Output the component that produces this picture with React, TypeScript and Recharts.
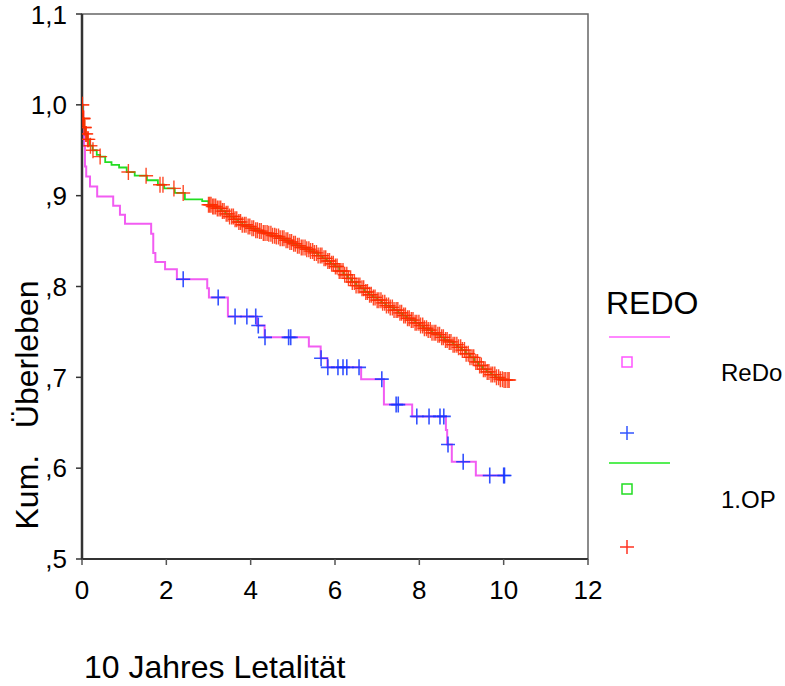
import React from 'react';
import { ComposedChart, Line, Scatter, XAxis, YAxis, ReferenceArea } from 'recharts';

// ---- Data ----
const xTicks = [0, 2, 4, 6, 8, 10, 12];
const yTicks = [0.5, 0.6, 0.7, 0.8, 0.9, 1.0, 1.1];

// ReDo: Kaplan-Meier steps [time, survival]
const redoSteps: [number, number][] = [
  [0, 1.0], [0.03, 0.975], [0.05, 0.955], [0.07, 0.932], [0.1, 0.921],
  [0.19, 0.91], [0.36, 0.899], [0.74, 0.889], [0.9, 0.879], [1.02, 0.869],
  [1.64, 0.858], [1.69, 0.837], [1.74, 0.827], [1.97, 0.819], [2.25, 0.808],
  [2.97, 0.798], [3.01, 0.788], [3.46, 0.767], [4.15, 0.757], [4.33, 0.744],
  [5.38, 0.734], [5.66, 0.721], [5.82, 0.711], [6.62, 0.698], [7.16, 0.67],
  [7.83, 0.657], [8.63, 0.642], [8.66, 0.626], [8.77, 0.607], [9.34, 0.592],
  [10.02, 0.592],
];
// ReDo censored [time, survival]
const redoCensored: [number, number][] = [
  [2.4, 0.808], [3.23, 0.788], [3.63, 0.767], [3.91, 0.767], [4.12, 0.767],
  [4.18, 0.757], [4.34, 0.744], [4.9, 0.744], [4.95, 0.744], [5.67, 0.721],
  [5.83, 0.711], [6.07, 0.711], [6.19, 0.711], [6.28, 0.711], [6.57, 0.711],
  [7.11, 0.698], [7.45, 0.67], [7.5, 0.67], [7.94, 0.657], [8.23, 0.657],
  [8.49, 0.657], [8.58, 0.657], [8.68, 0.626], [9.04, 0.607], [9.67, 0.592],
  [10.0, 0.592], [10.02, 0.592],
];

// 1.OP: Kaplan-Meier steps [time, survival]
const opSteps: [number, number][] = [
  [0, 1.0], [0.02, 0.985], [0.05, 0.975], [0.08, 0.968], [0.12, 0.962],
  [0.18, 0.955], [0.25, 0.95], [0.35, 0.945], [0.43, 0.943], [0.55, 0.937],
  [0.7, 0.934], [0.88, 0.931], [1.06, 0.926], [1.25, 0.922], [1.54, 0.917],
  [1.8, 0.912], [1.95, 0.908], [2.2, 0.903], [2.44, 0.896], [2.85, 0.894],
  [3.0, 0.89], [3.1, 0.888], [3.2, 0.886], [3.3, 0.883], [3.4, 0.88],
  [3.5, 0.877], [3.6, 0.874], [3.7, 0.871], [3.8, 0.868], [3.9, 0.866],
  [4.0, 0.864], [4.1, 0.862], [4.2, 0.861], [4.3, 0.859], [4.4, 0.858],
  [4.5, 0.856], [4.6, 0.855], [4.7, 0.853], [4.8, 0.851], [4.9, 0.849],
  [5.0, 0.847], [5.1, 0.845], [5.2, 0.843], [5.3, 0.841], [5.4, 0.839],
  [5.5, 0.837], [5.6, 0.834], [5.7, 0.831], [5.8, 0.828], [5.9, 0.825],
  [6.0, 0.822], [6.1, 0.817], [6.2, 0.813], [6.3, 0.809], [6.4, 0.805],
  [6.5, 0.801], [6.6, 0.798], [6.7, 0.794], [6.8, 0.791], [6.9, 0.788],
  [7.0, 0.785], [7.1, 0.782], [7.2, 0.779], [7.3, 0.777], [7.4, 0.774],
  [7.5, 0.771], [7.6, 0.768], [7.7, 0.765], [7.8, 0.763], [7.9, 0.76],
  [8.0, 0.757], [8.1, 0.754], [8.2, 0.752], [8.3, 0.749], [8.4, 0.747],
  [8.5, 0.744], [8.6, 0.741], [8.7, 0.739], [8.8, 0.736], [8.9, 0.733],
  [9.0, 0.73], [9.1, 0.726], [9.2, 0.722], [9.3, 0.717], [9.4, 0.713],
  [9.5, 0.709], [9.6, 0.706], [9.7, 0.703], [9.8, 0.7], [9.9, 0.698],
  [10.0, 0.697], [10.15, 0.697],
];
// 1.OP censored times
const opCensoredTimes: number[] = [
  0.0, 0.01, 0.02, 0.03, 0.04, 0.05, 0.07, 0.09, 0.1, 0.13, 0.15, 0.2, 0.26, 0.43,
  1.1, 1.52, 1.85, 1.92, 2.18, 2.4,
  3.0, 3.03, 3.06, 3.1, 3.13, 3.17, 3.21, 3.25, 3.29, 3.33, 3.37, 3.42, 3.46, 3.5, 3.55,
  3.59, 3.63, 3.67, 3.72, 3.76, 3.8, 3.85, 3.89, 3.94, 3.98, 4.03, 4.07, 4.12, 4.16, 4.21,
  4.25, 4.3, 4.34, 4.39, 4.43, 4.48, 4.52, 4.57, 4.61, 4.66, 4.7, 4.75, 4.79, 4.84, 4.88,
  4.93, 4.97, 5.02, 5.06, 5.11, 5.15, 5.2, 5.24, 5.29, 5.33, 5.38, 5.42, 5.47, 5.51, 5.56,
  5.6, 5.65, 5.69, 5.74, 5.78, 5.83, 5.87, 5.92, 5.96, 6.01, 6.05, 6.1, 6.14, 6.19, 6.23,
  6.28, 6.32, 6.37, 6.41, 6.46, 6.5, 6.55, 6.59, 6.64, 6.68, 6.73, 6.77, 6.82, 6.86, 6.91,
  6.95, 7.0, 7.04, 7.09, 7.13, 7.18, 7.22, 7.27, 7.31, 7.36, 7.4, 7.45, 7.49, 7.54, 7.58,
  7.63, 7.67, 7.72, 7.76, 7.81, 7.85, 7.9, 7.94, 7.99, 8.03, 8.08, 8.12, 8.17, 8.21, 8.26,
  8.3, 8.35, 8.39, 8.44, 8.48, 8.53, 8.57, 8.62, 8.66, 8.71, 8.75, 8.8, 8.84, 8.89, 8.93,
  8.98, 9.02, 9.07, 9.11, 9.16, 9.2, 9.25, 9.29, 9.34, 9.38, 9.43, 9.47, 9.52, 9.56, 9.61,
  9.65, 9.7, 9.74, 9.79, 9.83, 9.88, 9.92, 9.97, 10.01, 10.05, 10.1, 10.13,
];

// ---- Build series ----
const toPts = (arr: [number, number][]) => arr.map(([t, s]) => ({ t, s }));
const survAt = (steps: [number, number][], t: number) => {
  let v = steps[0][1];
  for (const [st, sv] of steps) {
    if (st <= t) v = sv;
  }
  return v;
};
const redoLine = toPts(redoSteps);
const opLine = toPts(opSteps);
const redoCens = toPts(redoCensored);
const opCens = opCensoredTimes.map((t) => ({ t, s: survAt(opSteps, t) }));

const fmtY = (v: number) => {
  const s = v.toFixed(1).replace('.', ',');
  return s.startsWith('0') ? s.slice(1) : s;
};

const FONT = '"Liberation Sans", Arial, Helvetica, sans-serif';

const plus = (color: string, w: number) => (props: any) => {
  const { cx, cy } = props;
  if (cx == null || cy == null) return <g />;
  return (
    <path
      d={`M${cx - 7},${cy}h14M${cx},${cy - 8}v16`}
      stroke={color}
      strokeWidth={w}
      strokeOpacity={0.85}
      fill="none"
    />
  );
};

export default function App() {
  return (
    <div style={{ position: 'absolute', left: 0, top: 0, width: 785, height: 686, background: '#fff', fontFamily: FONT }}>
      <ComposedChart
        width={785}
        height={686}
        margin={{ top: 14, right: 197, left: 0, bottom: 87 }}
      >
        <XAxis
          type="number"
          dataKey="t"
          domain={[0, 12]}
          ticks={xTicks}
          allowDataOverflow
          height={40}
          tickSize={6}
          tickMargin={16}
          stroke="#333"
          axisLine={{ stroke: '#333', strokeWidth: 2 }}
          tickLine={{ stroke: '#555', strokeWidth: 1.5 }}
          tick={{ fontSize: 26, fill: '#000', fontFamily: FONT }}
        />
        <YAxis
          type="number"
          dataKey="s"
          domain={[0.5, 1.1]}
          ticks={yTicks}
          allowDataOverflow
          width={82}
          tickSize={6}
          tickMargin={9}
          tickFormatter={fmtY}
          axisLine={{ stroke: '#333', strokeWidth: 2.5 }}
          tickLine={{ stroke: '#333', strokeWidth: 1.5 }}
          tick={{ fontSize: 26, fill: '#000', fontFamily: FONT }}
        />
        <ReferenceArea x1={0} x2={12} y1={0.5} y2={1.1} fill="none" stroke="#666" strokeWidth={1.5} ifOverflow="visible" />
        <Line data={redoLine} dataKey="s" type="stepAfter" stroke="#f25cf2" strokeWidth={2} dot={false} isAnimationActive={false} />
        <Line data={opLine} dataKey="s" type="stepAfter" stroke="#22dd22" strokeWidth={1.8} dot={false} isAnimationActive={false} />
        <Scatter data={redoCens} dataKey="s" shape={plus('#1034ff', 1.6)} isAnimationActive={false} />
        <Scatter data={opCens} dataKey="s" shape={plus('#ff2a00', 1.4)} isAnimationActive={false} />
      </ComposedChart>

      {/* Y-axis title */}
      <div
        style={{
          position: 'absolute', left: 27, top: 405, transform: 'translate(-50%, -50%) rotate(-90deg)',
          fontSize: 32, whiteSpace: 'pre', color: '#000', lineHeight: 1,
        }}
      >
        Kum.   Überleben
      </div>
      {/* X-axis title */}
      <div style={{ position: 'absolute', left: 84, top: 651, fontSize: 32, color: '#000', lineHeight: 1, whiteSpace: 'pre' }}>
        10 Jahres Letalität
      </div>

      {/* Legend */}
      <div style={{ position: 'absolute', left: 606, top: 287, fontSize: 32, lineHeight: 1 }}>REDO</div>
      <svg style={{ position: 'absolute', left: 600, top: 320 }} width={90} height={250}>
        <line x1={9} x2={70} y1={17} y2={17} stroke="#ff88ff" strokeWidth={2} />
        <rect x={22} y={37} width={10} height={10} fill="none" stroke="#ff55ff" strokeWidth={1.5} />
        <path d="M20,113h14M27,106v14" stroke="#3355ff" strokeWidth={1.5} fill="none" />
        <line x1={9} x2={70} y1={143} y2={143} stroke="#55ee55" strokeWidth={2} />
        <rect x={22} y={164} width={10} height={10} fill="none" stroke="#22dd22" strokeWidth={1.5} />
        <path d="M20,227h14M27,220v14" stroke="#ff3322" strokeWidth={1.5} fill="none" />
      </svg>
      <div style={{ position: 'absolute', left: 721, top: 361, fontSize: 24, lineHeight: 1 }}>ReDo</div>
      <div style={{ position: 'absolute', left: 721, top: 488, fontSize: 24, lineHeight: 1 }}>1.OP</div>
    </div>
  );
}
